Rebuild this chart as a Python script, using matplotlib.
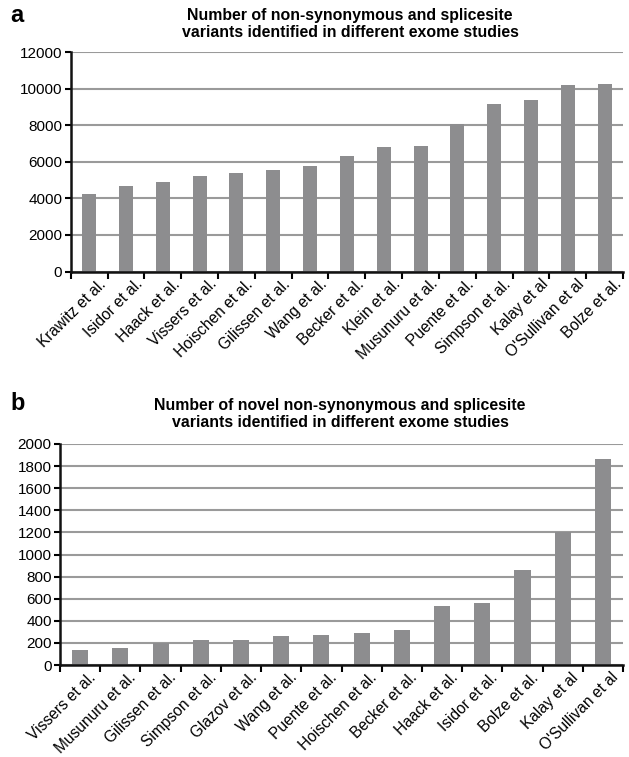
import matplotlib
matplotlib.use("Agg")
from matplotlib import pyplot as plt
import numpy as np

plt.rcParams['font.family'] = ['Liberation Sans', 'DejaVu Sans']

# Panel a: all non-synonymous + splicesite variants per study
studies_a = ["Krawitz et al.", "Isidor et al.", "Haack et al.", "Vissers et al.",
             "Hoischen et al.", "Gilissen et al.", "Wang et al.", "Becker et al.",
             "Klein et al.", "Musunuru et al.", "Puente et al.", "Simpson et al.",
             "Kalay et al", "O'Sullivan et al", "Bolze et al."]
variants_a = [4250, 4650, 4920, 5200, 5370, 5530, 5750, 6300,
              6800, 6850, 8080, 9180, 9350, 10180, 10230]

# Panel b: novel variants per study
studies_b = ["Vissers et al.", "Musunuru et al.", "Gilissen et al.", "Simpson et al.",
             "Glazov et al.", "Wang et al.", "Puente et al.", "Hoischen et al.",
             "Becker et al.", "Haack et al.", "Isidor et al.", "Bolze et al.",
             "Kalay et al", "O'Sullivan et al"]
variants_b = [135, 155, 200, 228, 228, 265, 272, 290, 318, 530, 565, 862, 1200, 1860]

bar_color = '#8d8d8f'
grid_color = '#9a9a9a'


def draw_panel(ax, labels, values, ymax, ystep, width, label_shift):
    n = len(labels)
    x = np.arange(n)
    ax.set_axisbelow(True)
    ax.yaxis.grid(True, color=grid_color, linewidth=1.5)
    ax.bar(x, values, width=width, color=bar_color, edgecolor='none', zorder=2)
    ax.set_xlim(-0.5, n - 0.5)
    ax.set_ylim(0, ymax)
    ax.set_yticks(np.arange(0, ymax + 1, ystep))
    # ticks sit between the bars
    ax.set_xticks(np.arange(-0.5, n, 1.0))
    ax.set_xticklabels([])
    # labels hang a little right of the bar centre, as in the original
    ax.set_xticks(x + label_shift, minor=True)
    ax.set_xticklabels(labels, minor=True, rotation=45, ha='right',
                       rotation_mode='anchor', fontsize=11.2)
    ax.tick_params(axis='x', which='minor', length=0, pad=3.5)
    ax.tick_params(axis='x', which='major', length=5, width=1.5, direction='out')
    ax.tick_params(axis='y', length=4, width=1.5, labelsize=11, pad=2)
    for s in ['top', 'right']:
        ax.spines[s].set_visible(False)
    for s in ['left', 'bottom']:
        ax.spines[s].set_linewidth(1.8)
        ax.spines[s].set_color('#111111')


fig = plt.figure(figsize=(6.29, 7.57), dpi=100)

ax1 = fig.add_axes([0.1124, 0.6413, 0.9905 - 0.1124, 0.9313 - 0.6413])
draw_panel(ax1, studies_a, variants_a, 12000, 2000, 0.38, 0.25)
fig.text(350 / 629, 1 - 24 / 757,
         "Number of non-synonymous and splicesite\nvariants identified in different exome studies",
         ha='center', va='center', fontsize=11.4, fontweight='bold', linespacing=1.2)
fig.text(10 / 629, 1 - 15 / 757, "a", fontsize=17, fontweight='bold', va='center', ha='left')

ax2 = fig.add_axes([0.0954, 0.1215, 0.9905 - 0.0954, 0.4135 - 0.1215])
draw_panel(ax2, studies_b, variants_b, 2000, 200, 0.4, 0.2)
fig.text(340 / 629, 1 - 414 / 757,
         "Number of novel non-synonymous and splicesite\nvariants identified in different exome studies",
         ha='center', va='center', fontsize=11.4, fontweight='bold', linespacing=1.2)
fig.text(10 / 629, 1 - 404 / 757, "b", fontsize=17, fontweight='bold', va='center', ha='left')

plt.savefig("out.png", dpi=100)
